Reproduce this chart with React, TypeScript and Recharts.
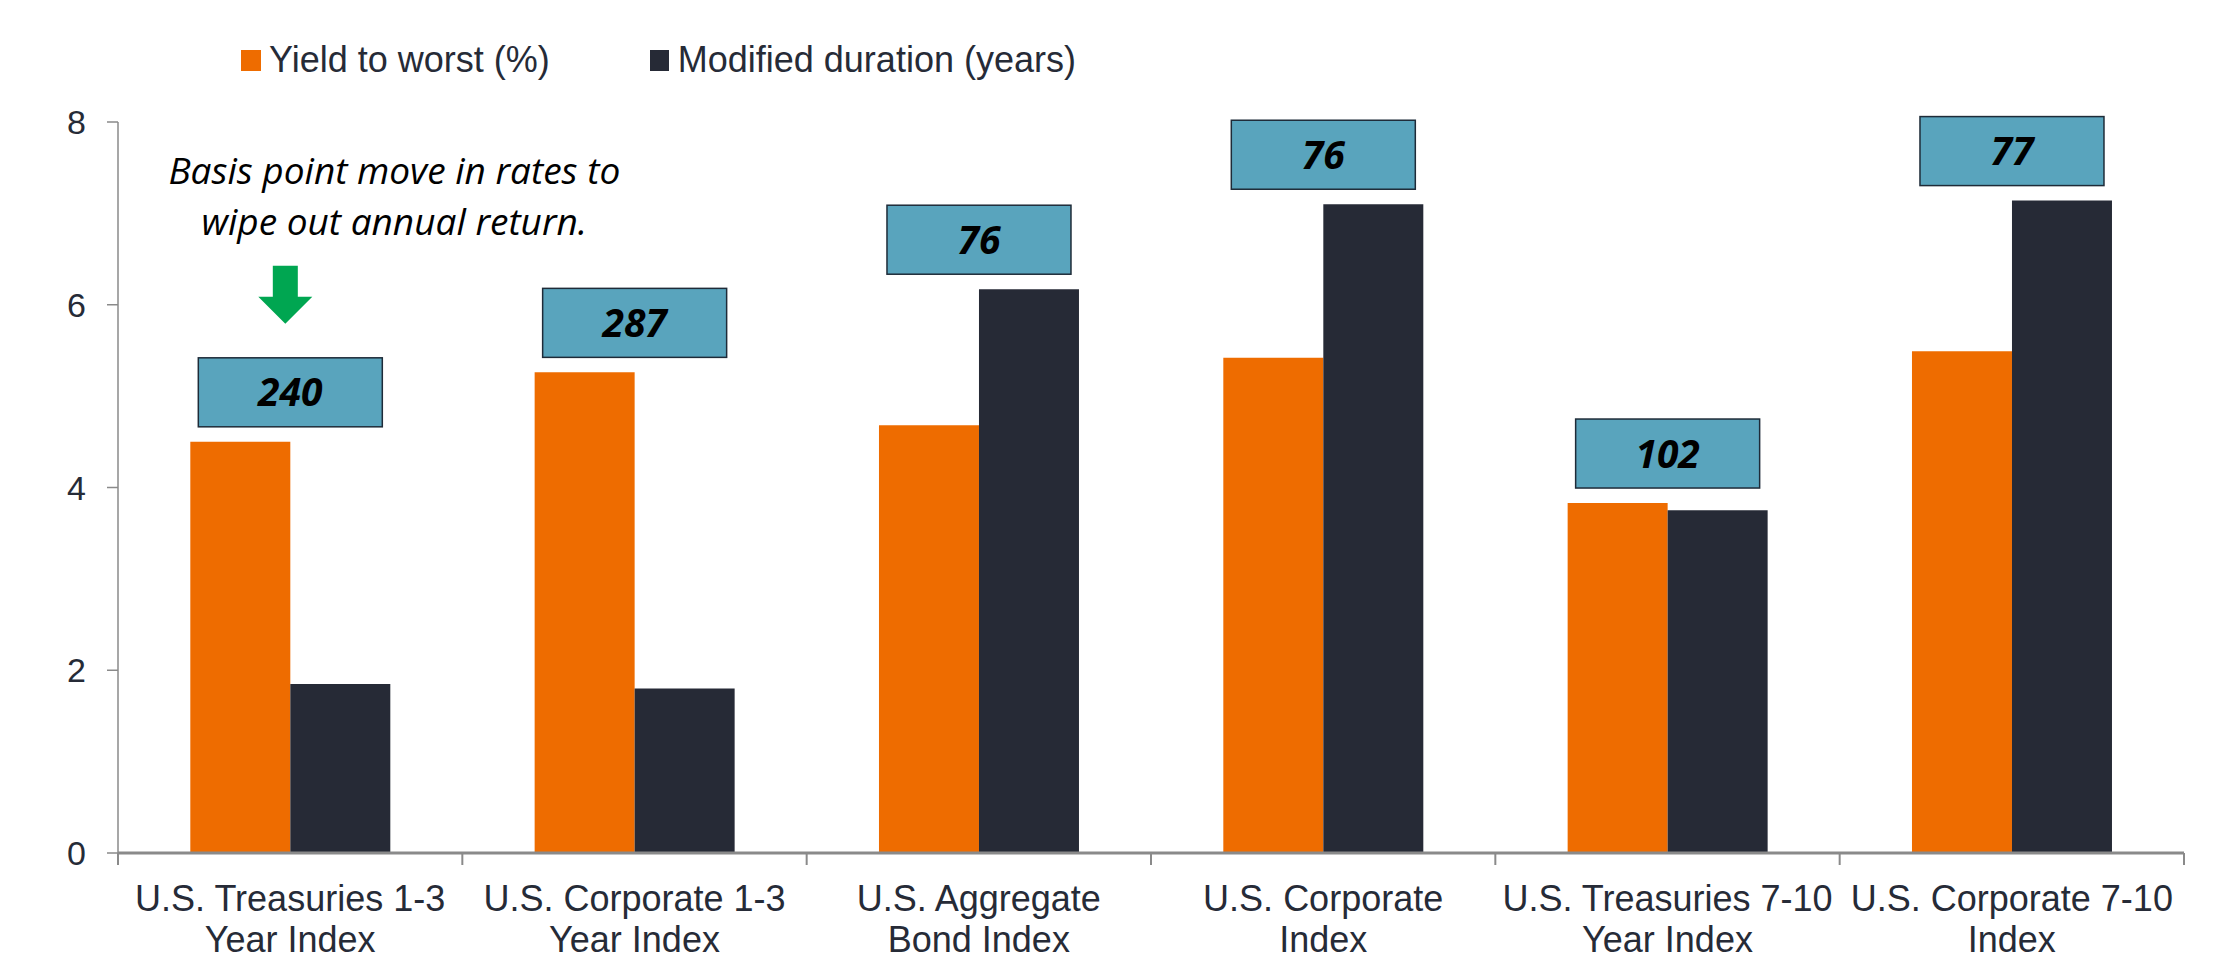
import React from "react";
import { BarChart, Bar, XAxis, YAxis, Legend, LabelList } from "recharts";

const categories = [
  "U.S. Treasuries 1-3 Year Index",
  "U.S. Corporate 1-3 Year Index",
  "U.S. Aggregate Bond Index",
  "U.S. Corporate Index",
  "U.S. Treasuries 7-10 Year Index",
  "U.S. Corporate 7-10 Index",
];
const categoryLines = [
  ["U.S. Treasuries 1-3", "Year Index"],
  ["U.S. Corporate 1-3", "Year Index"],
  ["U.S. Aggregate", "Bond Index"],
  ["U.S. Corporate", "Index"],
  ["U.S. Treasuries 7-10", "Year Index"],
  ["U.S. Corporate 7-10", "Index"],
];
const yieldToWorst = [4.5, 5.26, 4.68, 5.42, 3.83, 5.49];
const modifiedDuration = [1.85, 1.8, 6.17, 7.1, 3.75, 7.14];
const bpMove = [240, 287, 76, 76, 102, 77];
const yTicks = [0, 2, 4, 6, 8];
const seriesNames = ["Yield to worst (%)", "Modified duration (years)"];
const annotationLines = ["Basis point move in rates to", "wipe out annual return."];

const ORANGE = "#EE6C00";
const DARK = "#262A36";
const TEAL = "#59A4BD";
const TEXT = "#262B37";
const AXIS = "#8A8A8A";
const FONT = "'Liberation Sans', Arial, sans-serif";

const data = categories.map((name, i) => ({
  name,
  ytw: yieldToWorst[i],
  dur: modifiedDuration[i],
  bp: bpMove[i],
}));

const XTick = (props: any) => {
  const { x, y, index, payload } = props;
  const lines = categoryLines[index] || [];
  const half = payload && typeof payload.offset === "number" && payload.offset > 0 ? payload.offset : 172;
  const last = index === categoryLines.length - 1;
  return (
    <g>
      <line x1={x - half} x2={x - half} y1={y} y2={y + 12} stroke={AXIS} strokeWidth={2} />
      {last && <line x1={x + half} x2={x + half} y1={y} y2={y + 12} stroke={AXIS} strokeWidth={2} />}
      <text x={x} y={y} textAnchor="middle" fill={TEXT} fontSize={36} fontFamily={FONT}>
        {lines.map((l, k) => (
          <tspan key={k} x={x} dy={k === 0 ? 58 : 41}>
            {l}
          </tspan>
        ))}
      </text>
    </g>
  );
};

const BoxLabel = (props: any) => {
  const vb = props.viewBox && props.viewBox.height !== undefined ? props.viewBox : props;
  const { x, y, height } = vb;
  const i = props.index;
  if (x === undefined || i === undefined) return null;
  const dur = modifiedDuration[i];
  const pxPerUnit = height / dur;
  const base = y + height;
  const topMax = base - Math.max(yieldToWorst[i], dur) * pxPerUnit;
  const w = 184;
  const h = 69;
  const boxBottom = topMax - 15;
  const boxTop = boxBottom - h;
  const cx = x;
  const ax = cx - 5;
  return (
    <g>
      <rect x={cx - w / 2} y={boxTop} width={w} height={h} fill={TEAL} stroke="#1E2B38" strokeWidth={1.5} />
      <text
        x={cx}
        y={boxTop + h / 2 + 14}
        textAnchor="middle"
        fontFamily="'Open Sans', sans-serif"
        fontWeight={700}
        fontStyle="italic"
        fontSize={39}
        fill="#000"
      >
        {bpMove[i]}
      </text>
      {i === 0 && (
        <g>
          <text
            x={cx + 104}
            y={boxTop - 174}
            textAnchor="middle"
            fontFamily="'Open Sans', sans-serif"
            fontStyle="italic"
            fontSize={37}
            fill="#000"
          >
            {annotationLines[0]}
          </text>
          <text
            x={cx + 104}
            y={boxTop - 123}
            textAnchor="middle"
            fontFamily="'Open Sans', sans-serif"
            fontStyle="italic"
            fontSize={37}
            fill="#000"
          >
            {annotationLines[1]}
          </text>
          <polygon
            points={[
              [ax - 12.5, boxTop - 92],
              [ax + 12.5, boxTop - 92],
              [ax + 12.5, boxTop - 61],
              [ax + 27, boxTop - 61],
              [ax, boxTop - 34],
              [ax - 27, boxTop - 61],
              [ax - 12.5, boxTop - 61],
            ]
              .map((p) => p.join(","))
              .join(" ")}
            fill="#00A651"
          />
        </g>
      )}
    </g>
  );
};

const LegendContent = () => (
  <div style={{ display: "flex", alignItems: "center", fontFamily: FONT, fontSize: 36, color: TEXT, whiteSpace: "nowrap" }}>
    <span style={{ display: "inline-block", width: 20, height: 21, background: ORANGE, marginRight: 8 }} />
    <span>{seriesNames[0]}</span>
    <span style={{ display: "inline-block", width: 19, height: 21, background: DARK, marginLeft: 100, marginRight: 9 }} />
    <span>{seriesNames[1]}</span>
  </div>
);

export default function App() {
  return (
    <div style={{ width: 2217, height: 952, background: "#fff" }}>
      <BarChart
        width={2217}
        height={952}
        data={data}
        margin={{ top: 114, right: 41, bottom: 0, left: 0 }}
        barCategoryGap="21%"
        barGap={0}
      >
        <XAxis
          dataKey="name"
          height={107}
          axisLine={{ stroke: AXIS, strokeWidth: 3 }}
          tickLine={false}
          tickSize={0}
          tickMargin={0}
          interval={0}
          tick={<XTick />}
        />
        <YAxis
          width={110}
          domain={[0, 8]}
          ticks={yTicks}
          interval={0}
          tickSize={11}
          tickMargin={21}
          axisLine={{ stroke: AXIS, strokeWidth: 1.5 }}
          tickLine={{ stroke: AXIS, strokeWidth: 1.5 }}
          tick={{ fill: TEXT, fontSize: 34, fontFamily: FONT }}
        />
        <Legend
          layout="horizontal"
          verticalAlign="middle"
          align="center"
          wrapperStyle={{ top: 31, left: 233, width: "auto" }}
          content={<LegendContent />}
        />
        <Bar dataKey="ytw" name={seriesNames[0]} fill={ORANGE} isAnimationActive={false} />
        <Bar dataKey="dur" name={seriesNames[1]} fill={DARK} isAnimationActive={false}>
          <LabelList dataKey="bp" content={<BoxLabel />} />
        </Bar>
      </BarChart>
    </div>
  );
}
